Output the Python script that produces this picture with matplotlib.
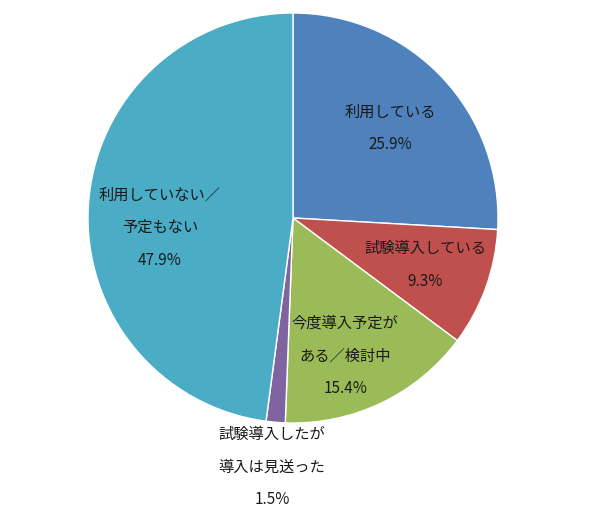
import matplotlib
matplotlib.use("Agg")
import matplotlib.pyplot as plt

plt.rcParams['font.family'] = ['Noto Sans CJK JP', 'DejaVu Sans']

categories = ["利用している", "試験導入している", "今度導入予定が\nある／検討中",
              "試験導入したが\n導入は見送った", "利用していない／\n予定もない"]
values = [25.9, 9.3, 15.4, 1.5, 47.9]
colors = ["#4F81BD", "#C0504D", "#9BBB59", "#8064A2", "#4BACC6"]
label_pos = [(0.473, 0.436), (0.644, -0.229), (0.254, -0.673),
             (-0.102, -1.214), (-0.649, -0.046)]

fig = plt.figure(figsize=(5.90, 5.18), dpi=100)
ax = fig.add_axes([88/590, 95/518, 410/590, 410/518])
ax.pie(values, colors=colors, startangle=90, counterclock=False,
       wedgeprops=dict(edgecolor="white", linewidth=1.0), radius=1.0)
ax.set_xlim(-1, 1)
ax.set_ylim(-1, 1)
ax.set_aspect('auto')
ax.axis('off')

for cat, v, (x, y) in zip(categories, values, label_pos):
    ax.text(x, y, f"{cat}\n{v:.1f}%", ha='center', va='center', fontsize=11,
            color='#1a1a1a', linespacing=2.2, clip_on=False)

fig.savefig("out.png", dpi=100)
